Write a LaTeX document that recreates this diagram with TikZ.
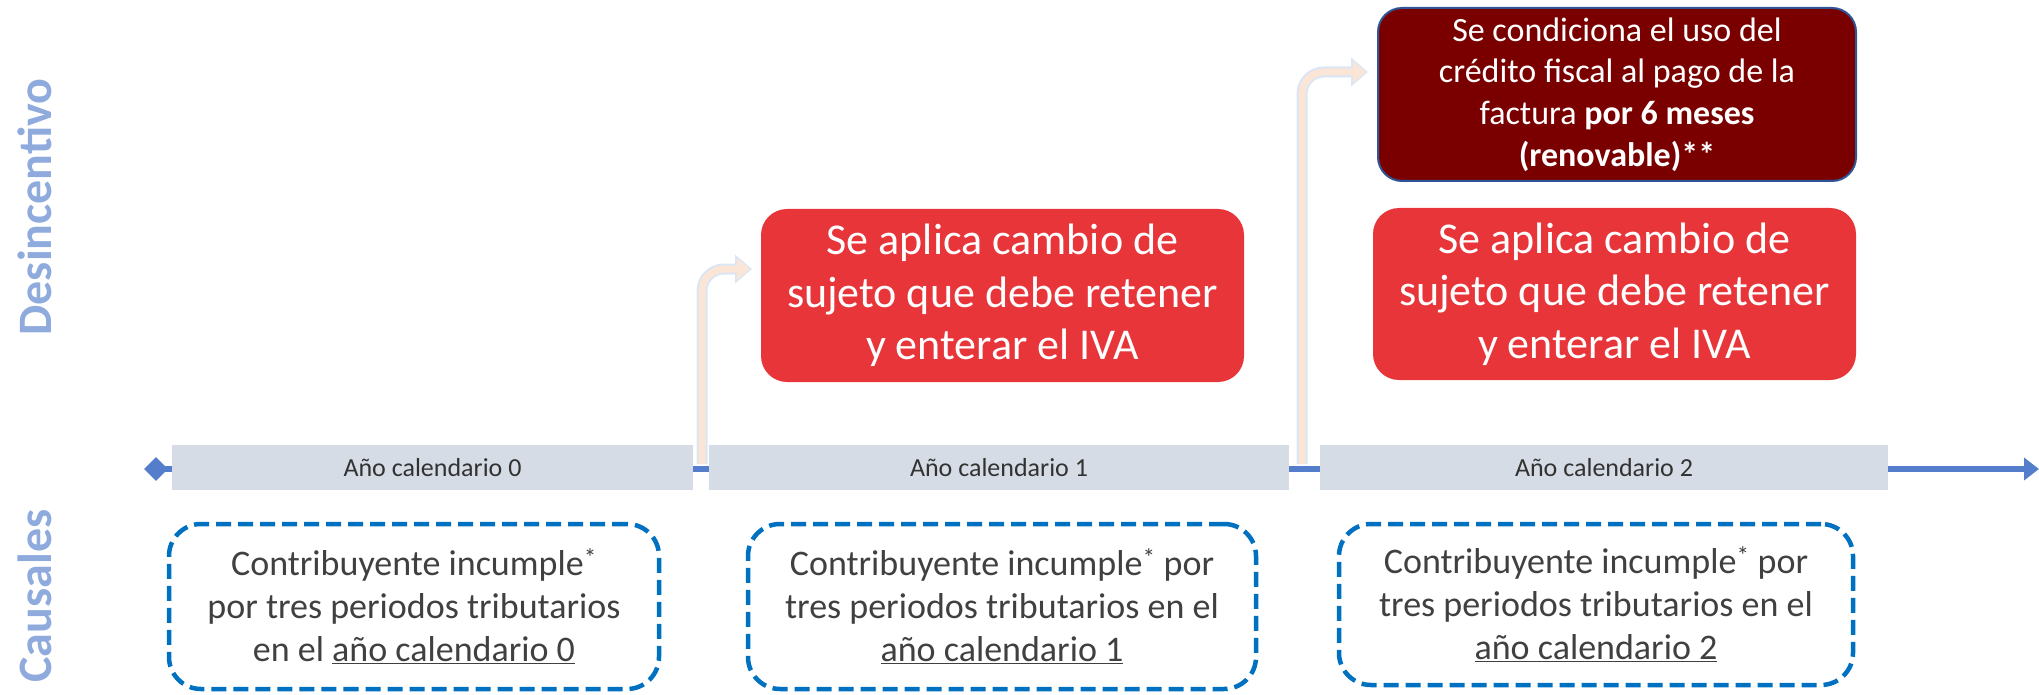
\documentclass[tikz,border=0pt]{standalone}
\usepackage{fontspec}
\setmainfont{Carlito}
\usetikzlibrary{arrows.meta,shapes.geometric}
\definecolor{labelblue}{RGB}{143,170,220}
\definecolor{barfill}{RGB}{214,220,229}
\definecolor{lineblue}{RGB}{84,126,204}
\definecolor{causalblue}{RGB}{0,112,192}
\definecolor{redfill}{RGB}{232,53,58}
\definecolor{darkredfill}{RGB}{122,0,0}
\definecolor{darkblueedge}{RGB}{47,85,151}
\definecolor{txtgray}{RGB}{64,64,64}
\definecolor{bartext}{RGB}{50,50,50}
\definecolor{elbowblue}{RGB}{218,230,245}
\definecolor{peach}{RGB}{251,229,214}
\begin{document}
\begin{tikzpicture}[x=1pt,y=-1pt,
  barbox/.style={fill=barfill, minimum height=45pt, inner sep=0pt, text=bartext, font=\fontsize{26}{30}\selectfont},
  causalbox/.style={draw=causalblue, line width=4.5pt, dash pattern=on 15pt off 7pt, rounded corners=32pt, align=center, text=txtgray, inner sep=0pt, font=\fontsize{36}{43}\selectfont},
  redbox/.style={fill=redfill, rounded corners=26pt, text=white, align=center, inner sep=0pt, font=\fontsize{44}{52.5}\selectfont},
  darkbox/.style={fill=darkredfill, draw=darkblueedge, line width=2pt, rounded corners=24pt, text=white, align=center, inner sep=0pt, font=\fontsize{34}{41.6}\selectfont},
  sidelabel/.style={rotate=90, text=labelblue, font=\bfseries\fontsize{48}{52}\selectfont},
  elbowout/.style={draw=elbowblue, line width=11pt, rounded corners=22pt, -{Triangle[length=17pt,width=28pt]}},
  elbowin/.style={draw=peach, line width=7pt, rounded corners=22pt, shorten >=2pt, -{Triangle[length=13pt,width=21pt]}},
]
\useasboundingbox (0,0) rectangle (2039,695);

% side labels
\node[sidelabel] (desinc) at (35,207) {Desincentivo};
\node[sidelabel] (causales) at (35,596) {Causales};

% timeline
\node[diamond, fill=lineblue, minimum size=24pt, inner sep=0pt] (dia) at (156,469) {};
\coordinate (tend) at (2039,469);
\draw[lineblue, line width=6pt, -{Triangle[length=15pt,width=22pt]}] (dia.center) -- (tend);

% elbow arrows
\coordinate (a1s) at (702,464);
\coordinate (a1e) at (752,269);
\coordinate (a2s) at (1302,464);
\coordinate (a2e) at (1368,72);
\draw[elbowout] (a1s) |- (a1e);
\draw[elbowin] (a1s) |- (a1e);
\draw[elbowout] (a2s) |- (a2e);
\draw[elbowin] (a2s) |- (a2e);

% bars
\node[barbox, minimum width=521pt] (bar0) at (432.5,467.5) {Año calendario 0};
\node[barbox, minimum width=580pt] (bar1) at (999,467.5) {Año calendario 1};
\node[barbox, minimum width=568pt] (bar2) at (1604,467.5) {Año calendario 2};

% causal boxes
\node[causalbox, minimum width=490pt, minimum height=165pt] (c0) at (414,606.5)
  {Contribuyente incumple\textsuperscript{*}\\por tres periodos tributarios\\en el \underline{año calendario 0}};
\node[causalbox, minimum width=508pt, minimum height=165pt] (c1) at (1002,606.5)
  {Contribuyente incumple\textsuperscript{*} por\\tres periodos tributarios en el\\\underline{año calendario 1}};
\node[causalbox, minimum width=514pt, minimum height=161pt] (c2) at (1596,604.5)
  {Contribuyente incumple\textsuperscript{*} por\\tres periodos tributarios en el\\\underline{año calendario 2}};

% disincentive boxes
\node[redbox, minimum width=483pt, minimum height=173pt] (r1) at (1002.5,295.5)
  {Se aplica cambio de\\sujeto que debe retener\\y enterar el IVA};
\node[redbox, minimum width=483pt, minimum height=172pt] (r2) at (1614.5,294)
  {Se aplica cambio de\\sujeto que debe retener\\y enterar el IVA};
\node[darkbox, minimum width=478pt, minimum height=173pt] (d2) at (1617,94.5)
  {Se condiciona el uso del\\crédito fiscal al pago de la\\factura \textbf{por 6 meses}\\\textbf{(renovable)**}};
\end{tikzpicture}
\end{document}
